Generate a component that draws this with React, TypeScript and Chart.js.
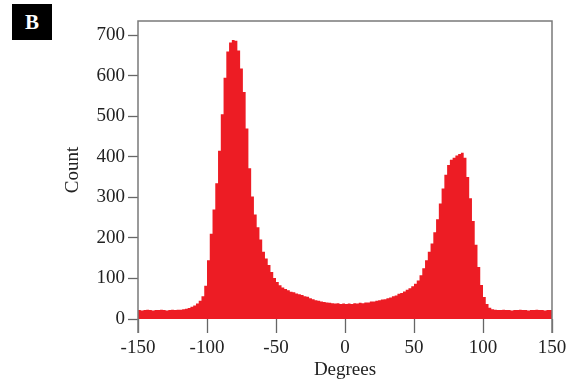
import React, { useEffect, useRef } from 'react';
import { Chart, registerables } from 'chart.js';
Chart.register(...registerables);

// Left edges of 2-degree histogram bins
const binEdges = [
  -150, -148, -146, -144, -142, -140, -138, -136, -134, -132,
  -130, -128, -126, -124, -122, -120, -118, -116, -114, -112,
  -110, -108, -106, -104, -102, -100, -98, -96, -94, -92,
  -90, -88, -86, -84, -82, -80, -78, -76, -74, -72,
  -70, -68, -66, -64, -62, -60, -58, -56, -54, -52,
  -50, -48, -46, -44, -42, -40, -38, -36, -34, -32,
  -30, -28, -26, -24, -22, -20, -18, -16, -14, -12,
  -10, -8, -6, -4, -2, 0, 2, 4, 6, 8,
  10, 12, 14, 16, 18, 20, 22, 24, 26, 28,
  30, 32, 34, 36, 38, 40, 42, 44, 46, 48,
  50, 52, 54, 56, 58, 60, 62, 64, 66, 68,
  70, 72, 74, 76, 78, 80, 82, 84, 86, 88,
  90, 92, 94, 96, 98, 100, 102, 104, 106, 108,
  110, 112, 114, 116, 118, 120, 122, 124, 126, 128,
  130, 132, 134, 136, 138, 140, 142, 144, 146, 148,
];
const xEnd = 150;

const counts = [
  22, 21, 22, 23, 22, 21, 22, 22, 23, 22,
  21, 22, 23, 22, 23, 23, 24, 25, 27, 30,
  33, 38, 45, 56, 82, 145, 210, 270, 335, 415,
  505, 595, 660, 682, 688, 686, 662, 618, 560, 470,
  372, 302, 258, 226, 196, 166, 149, 133, 116, 101,
  91, 83, 78, 74, 71, 67, 66, 63, 61, 59,
  56, 55, 51, 49, 46, 45, 43, 42, 41, 40,
  39, 38, 39, 37, 38, 37, 38, 37, 39, 38,
  40, 39, 41, 41, 43, 43, 45, 46, 48, 49,
  51, 53, 56, 58, 62, 64, 68, 72, 76, 81,
  87, 95, 108, 125, 145, 166, 186, 214, 246, 285,
  322, 356, 380, 393, 398, 403, 407, 410, 398, 350,
  298, 242, 183, 128, 84, 54, 37, 28, 24, 23,
  22, 22, 23, 22, 22, 21, 22, 22, 23, 22,
  22, 21, 22, 22, 23, 22, 22, 21, 22, 22,
];

const xTicks = [-150, -100, -50, 0, 50, 100, 150];
const yTicks = [0, 100, 200, 300, 400, 500, 600, 700];

const FONT = 'Liberation Serif, "Times New Roman", serif';

export default function App() {
  const ref = useRef<HTMLCanvasElement>(null);

  useEffect(() => {
    if (!ref.current) return;
    const pts = binEdges.map((x, i) => ({ x, y: counts[i] }));
    pts.push({ x: xEnd, y: counts[counts.length - 1] });

    const frame = {
      id: 'frame',
      afterDraw(chart: any) {
        const { ctx, chartArea: a } = chart;
        ctx.save();
        ctx.strokeStyle = '#7a7a7a';
        ctx.lineWidth = 1.5;
        ctx.beginPath();
        ctx.moveTo(a.left, a.bottom + 14);
        ctx.lineTo(a.left, a.top);
        ctx.lineTo(a.right, a.top);
        ctx.lineTo(a.right, a.bottom + 14);
        ctx.stroke();
        ctx.restore();
      },
    };

    const tickFont = { family: FONT, size: 19 };

    const chart = new Chart(ref.current, {
      type: 'line',
      data: {
        datasets: [
          {
            data: pts,
            stepped: true,
            fill: 'origin',
            backgroundColor: '#ED1C24',
            borderColor: '#ED1C24',
            borderWidth: 0,
            pointRadius: 0,
          },
        ],
      },
      options: {
        animation: false,
        responsive: true,
        maintainAspectRatio: false,
        layout: { padding: { left: 0, top: 21, right: 22, bottom: 0 } },
        plugins: { legend: { display: false }, tooltip: { enabled: false } },
        scales: {
          x: {
            type: 'linear',
            min: -150,
            max: 150,
            afterBuildTicks: (s: any) => {
              s.ticks = xTicks.map((v) => ({ value: v }));
            },
            afterFit: (s: any) => {
              s.height = 69;
            },
            ticks: { font: tickFont, color: '#222', padding: 4, maxRotation: 0, autoSkip: false },
            grid: { drawOnChartArea: false, drawTicks: true, tickLength: 14, tickColor: '#666', tickWidth: 1.3 },
            border: { display: false },
            title: {
              display: true,
              text: 'Degrees',
              font: { family: FONT, size: 19 },
              color: '#222',
              padding: { top: 0, bottom: 7 },
            },
          },
          y: {
            min: 0,
            max: 735,
            afterBuildTicks: (s: any) => {
              s.ticks = yTicks.map((v) => ({ value: v }));
            },
            afterFit: (s: any) => {
              s.width = 138;
            },
            ticks: { font: tickFont, color: '#222', padding: 3 },
            grid: { drawOnChartArea: false, drawTicks: true, tickLength: 10, tickColor: '#666', tickWidth: 1.3 },
            border: { display: false },
            title: {
              display: true,
              text: 'Count',
              font: { family: FONT, size: 19 },
              color: '#222',
              padding: { top: 62, bottom: 0 },
            },
          },
        },
      },
      plugins: [frame],
    } as any);
    return () => chart.destroy();
  }, []);

  return (
    <div style={{ position: 'fixed', left: 0, top: 0, width: 574, height: 388, background: '#fff' }}>
      <canvas ref={ref} style={{ display: 'block' }} />
      <div
        style={{
          position: 'absolute',
          left: 12,
          top: 4,
          width: 40,
          height: 36,
          background: '#000',
          color: '#fff',
          fontFamily: FONT,
          fontWeight: 'bold',
          fontSize: 21,
          lineHeight: '36px',
          textAlign: 'center',
        }}
      >
        B
      </div>
    </div>
  );
}
